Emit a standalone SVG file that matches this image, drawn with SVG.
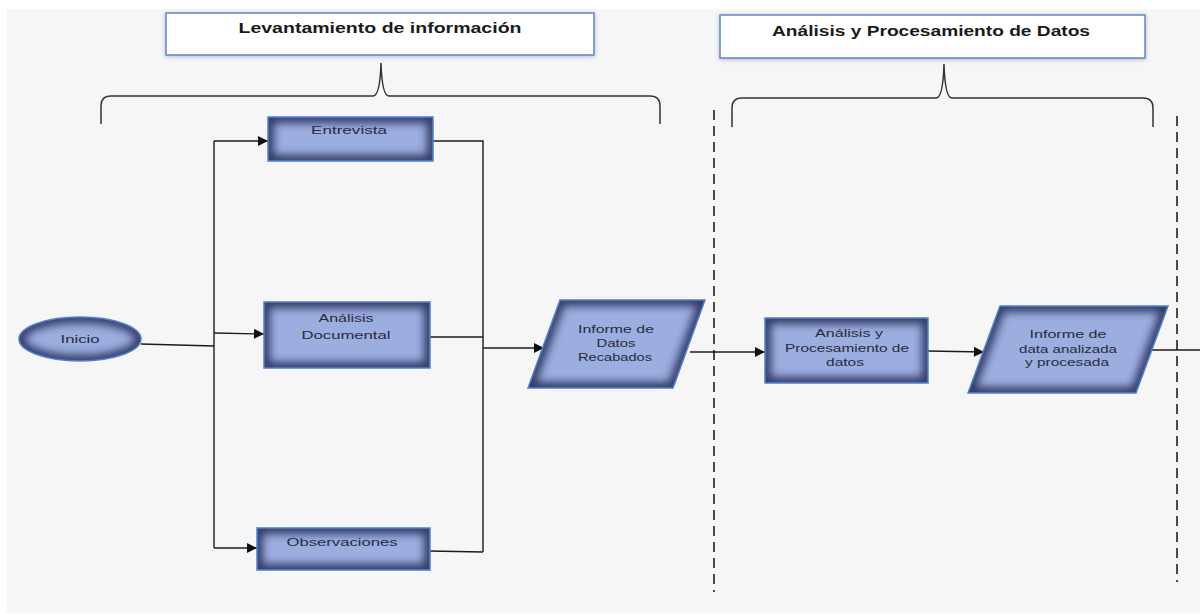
<svg xmlns="http://www.w3.org/2000/svg" width="1200" height="614" viewBox="0 0 1200 614">
  <defs>
    <style>
      .title-box { fill: #ffffff; stroke: #5b86cc; stroke-width: 1.5; }
      .title { font-family: "Liberation Sans", Arial, sans-serif; font-weight: bold; font-size: 14.5px; fill: #1a1a1a; text-anchor: middle; }
      .shape-fill { fill: #9cade0; }
      .shape-rim { fill: none; stroke: #323a66; stroke-width: 12; filter: url(#rimblur); }
      .shape-edge { fill: none; stroke: #4f7fd0; stroke-width: 1.5; }
      .label { font-family: "Liberation Sans", Arial, sans-serif; font-size: 11.5px; fill: #2a2a3c; text-anchor: middle; }
      .conn { fill: none; stroke: #1c1c1c; stroke-width: 1.4; }
      .brace { fill: none; stroke: #333333; stroke-width: 1.5; }
      .divider { fill: none; stroke: #111111; stroke-width: 1.5; stroke-dasharray: 10 6; }
    </style>
    <filter id="rimblur" x="-10%" y="-20%" width="120%" height="140%">
      <feGaussianBlur stdDeviation="4"/>
    </filter>
    <filter id="soft" x="-5%" y="-20%" width="110%" height="140%">
      <feDropShadow dx="0" dy="1" stdDeviation="2" flood-color="#000" flood-opacity="0.25"/>
    </filter>
    <marker id="arrow" viewBox="0 0 10 10" refX="10" refY="5" markerWidth="11" markerHeight="10" markerUnits="userSpaceOnUse" orient="auto">
      <path d="M0,0 L10,5 L0,10 z" fill="#111111"/>
    </marker>

    <!-- node outlines, reused for fill, rim shading and border -->
    <ellipse id="s-inicio" cx="80" cy="339" rx="61" ry="22"/>
    <rect id="s-entrevista" x="268" y="117" width="165" height="44"/>
    <rect id="s-documental" x="264" y="302" width="166" height="66"/>
    <rect id="s-observaciones" x="257" y="528" width="173" height="42"/>
    <polygon id="s-recabados" points="560,300 705,300 673,388 528,388"/>
    <rect id="s-procesamiento" x="765" y="318" width="163" height="65"/>
    <polygon id="s-analizada" points="1000,306 1168,306 1136,393 968,393"/>

    <clipPath id="c-inicio"><use href="#s-inicio"/></clipPath>
    <clipPath id="c-entrevista"><use href="#s-entrevista"/></clipPath>
    <clipPath id="c-documental"><use href="#s-documental"/></clipPath>
    <clipPath id="c-observaciones"><use href="#s-observaciones"/></clipPath>
    <clipPath id="c-recabados"><use href="#s-recabados"/></clipPath>
    <clipPath id="c-procesamiento"><use href="#s-procesamiento"/></clipPath>
    <clipPath id="c-analizada"><use href="#s-analizada"/></clipPath>
  </defs>

  <rect x="0" y="0" width="1200" height="614" fill="#ffffff"/>
  <rect x="7" y="9" width="1193" height="604" fill="#f6f6f6"/>

  <!-- phase headers -->
  <g id="header-levantamiento">
    <rect class="title-box" x="166" y="13" width="428" height="42" filter="url(#soft)"/>
    <text class="title" x="380" y="33" textLength="283" lengthAdjust="spacingAndGlyphs">Levantamiento de información</text>
  </g>
  <g id="header-analisis">
    <rect class="title-box" x="720" y="15" width="425" height="43" filter="url(#soft)"/>
    <text class="title" x="931" y="36" textLength="318" lengthAdjust="spacingAndGlyphs">Análisis y Procesamiento de Datos</text>
  </g>

  <!-- braces -->
  <g id="braces">
    <path class="brace" d="M101,124 L101,106 Q101,96 111,96 L373,96 Q380,96 381,63 Q382,96 389,96 L650,96 Q660,96 660,106 L660,124"/>
    <path class="brace" d="M732,127 L732,108 Q732,98 742,98 L936,98 Q943,98 944,64 Q945,98 952,98 L1143,98 Q1153,98 1153,108 L1153,127"/>
  </g>

  <!-- phase dividers -->
  <g id="dividers">
    <line class="divider" x1="714" y1="110" x2="714" y2="592"/>
    <line class="divider" x1="1177" y1="116" x2="1177" y2="582"/>
  </g>

  <!-- connectors -->
  <g id="connectors">
    <path class="conn" d="M141,344 L214,346"/>
    <path class="conn" d="M214,141 L214,548"/>
    <path class="conn" d="M214,141 L268,141" marker-end="url(#arrow)"/>
    <path class="conn" d="M214,333 L264,334" marker-end="url(#arrow)"/>
    <path class="conn" d="M214,548 L257,548" marker-end="url(#arrow)"/>
    <path class="conn" d="M433,141 L483,141 L483,552"/>
    <path class="conn" d="M430,337 L483,337"/>
    <path class="conn" d="M430,551 L483,552"/>
    <path class="conn" d="M483,348 L544,348" marker-end="url(#arrow)"/>
    <path class="conn" d="M690,352 L765,352" marker-end="url(#arrow)"/>
    <path class="conn" d="M928,351 L984,352" marker-end="url(#arrow)"/>
    <path class="conn" d="M1150,350 L1200,350"/>
  </g>

  <!-- nodes -->
  <g id="inicio">
    <use href="#s-inicio" class="shape-fill"/>
    <g clip-path="url(#c-inicio)"><use href="#s-inicio" class="shape-rim"/></g>
    <use href="#s-inicio" class="shape-edge"/>
    <text class="label" x="80" y="343" textLength="39" lengthAdjust="spacingAndGlyphs">Inicio</text>
  </g>

  <g id="entrevista">
    <use href="#s-entrevista" class="shape-fill"/>
    <g clip-path="url(#c-entrevista)"><use href="#s-entrevista" class="shape-rim"/></g>
    <use href="#s-entrevista" class="shape-edge"/>
    <text class="label" x="349" y="134" textLength="76" lengthAdjust="spacingAndGlyphs">Entrevista</text>
  </g>

  <g id="analisis-documental">
    <use href="#s-documental" class="shape-fill"/>
    <g clip-path="url(#c-documental)"><use href="#s-documental" class="shape-rim"/></g>
    <use href="#s-documental" class="shape-edge"/>
    <text class="label" x="346" y="322" textLength="55" lengthAdjust="spacingAndGlyphs">Análisis</text>
    <text class="label" x="346" y="339" textLength="89" lengthAdjust="spacingAndGlyphs">Documental</text>
  </g>

  <g id="observaciones">
    <use href="#s-observaciones" class="shape-fill"/>
    <g clip-path="url(#c-observaciones)"><use href="#s-observaciones" class="shape-rim"/></g>
    <use href="#s-observaciones" class="shape-edge"/>
    <text class="label" x="342" y="546" textLength="111" lengthAdjust="spacingAndGlyphs">Observaciones</text>
  </g>

  <g id="informe-datos-recabados">
    <use href="#s-recabados" class="shape-fill"/>
    <g clip-path="url(#c-recabados)"><use href="#s-recabados" class="shape-rim"/></g>
    <use href="#s-recabados" class="shape-edge"/>
    <text class="label" x="616" y="333" textLength="76" lengthAdjust="spacingAndGlyphs">Informe de</text>
    <text class="label" x="616" y="347" textLength="39" lengthAdjust="spacingAndGlyphs">Datos</text>
    <text class="label" x="615" y="361" textLength="74" lengthAdjust="spacingAndGlyphs">Recabados</text>
  </g>

  <g id="analisis-procesamiento">
    <use href="#s-procesamiento" class="shape-fill"/>
    <g clip-path="url(#c-procesamiento)"><use href="#s-procesamiento" class="shape-rim"/></g>
    <use href="#s-procesamiento" class="shape-edge"/>
    <text class="label" x="849" y="337" textLength="68" lengthAdjust="spacingAndGlyphs">Análisis y</text>
    <text class="label" x="847" y="352" textLength="124" lengthAdjust="spacingAndGlyphs">Procesamiento de</text>
    <text class="label" x="845" y="366" textLength="38" lengthAdjust="spacingAndGlyphs">datos</text>
  </g>

  <g id="informe-data-analizada">
    <use href="#s-analizada" class="shape-fill"/>
    <g clip-path="url(#c-analizada)"><use href="#s-analizada" class="shape-rim"/></g>
    <use href="#s-analizada" class="shape-edge"/>
    <text class="label" x="1068" y="338" textLength="77" lengthAdjust="spacingAndGlyphs">Informe de</text>
    <text class="label" x="1068" y="353" textLength="98" lengthAdjust="spacingAndGlyphs">data analizada</text>
    <text class="label" x="1067" y="366" textLength="84" lengthAdjust="spacingAndGlyphs">y procesada</text>
  </g>
</svg>
